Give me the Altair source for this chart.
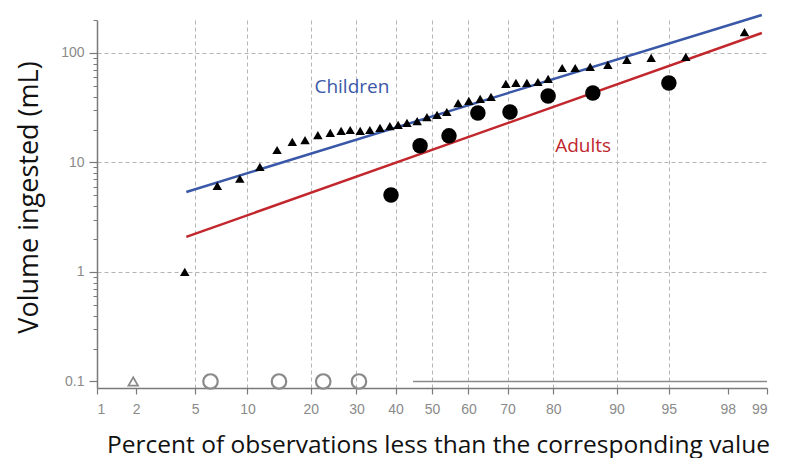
import altair as alt
import pandas as pd
from statistics import NormalDist

_nd = NormalDist()


def probit(p):
    return _nd.inv_cdf(p / 100.0)


# ---- data ----
children_pct = [4.3, 6.8, 9.1, 11.6, 14.1, 16.6, 18.9, 21.4, 24.0, 26.4, 28.5, 30.9, 33.3,
                35.9, 38.5, 40.7, 43.1, 45.9, 48.6, 51.4, 54.1, 57.2, 60.1, 63.1, 65.9,
                69.6, 72.0, 74.5, 76.9, 79.0, 81.7, 84.0, 86.4, 88.9, 91.2, 93.6, 96.1, 98.5]
children_vol = [1.0, 6.1, 7.1, 9.1, 13.0, 15.4, 16.0, 17.8, 18.6, 19.4, 19.8, 19.4, 19.8,
                20.7, 21.5, 22.0, 23.0, 23.9, 26.0, 27.2, 28.9, 34.9, 36.5, 38.0, 39.7,
                52.1, 53.2, 53.2, 54.3, 57.9, 72.9, 72.9, 74.5, 77.7, 86.3, 90.0, 91.9, 155]
adults_pct = [38.8, 46.7, 54.7, 62.5, 70.6, 79.0, 86.8, 95.0]
adults_vol = [5.05, 14.2, 17.5, 28.3, 28.9, 40.5, 43.1, 53.2]
children_zero_pct = [1.9]
adults_zero_pct = [6.2, 14.4, 22.5, 30.6]
zero_vol = 0.1
fit_pct = [4.4, 98.9]
children_fit_vol = [5.38, 222]
adults_fit_vol = [2.09, 152]
baseline_pct = [44.75, 99]
tick_pcts = [1, 2, 5, 10, 20, 30, 40, 50, 60, 70, 80, 90, 95, 98, 99]
grid_pcts = [5, 10, 20, 30, 40, 50, 60, 70, 80, 90, 95]
y_major = [0.1, 1, 10, 100]
y_grid = [1, 10, 100]
y_minor = [0.2, 0.3, 0.4, 0.5, 0.6, 0.7, 0.8, 0.9, 2, 3, 4, 5, 6, 7, 8, 9,
           20, 30, 40, 50, 60, 70, 80, 90, 200]
label_text = ["Children", "Adults"]
label_pct = [28.9, 85.3]
label_vol = [48.9, 14.2]
label_color = ["#3a58a8", "#c1272d"]

# ---- tables ----
children = pd.DataFrame({"z": [probit(p) for p in children_pct], "vol": children_vol})
adults = pd.DataFrame({"z": [probit(p) for p in adults_pct], "vol": adults_vol})
czero = pd.DataFrame({"z": [probit(p) for p in children_zero_pct], "vol": [zero_vol] * len(children_zero_pct)})
azero = pd.DataFrame({"z": [probit(p) for p in adults_zero_pct], "vol": [zero_vol] * len(adults_zero_pct)})
fits = pd.DataFrame({
    "z": [probit(p) for p in fit_pct] * 2,
    "vol": children_fit_vol + adults_fit_vol,
    "series": ["Children"] * 2 + ["Adults"] * 2,
})
base = pd.DataFrame({"z": [probit(baseline_pct[0])], "z2": [probit(baseline_pct[1])], "vol": [zero_vol]})
labels = pd.DataFrame({"z": [probit(p) for p in label_pct], "vol": label_vol,
                       "text": label_text, "color": label_color})

xscale = alt.Scale(domain=[probit(1), probit(99)], nice=False, zero=False)
yscale = alt.Scale(type="log", domain=[0.0872, 200], nice=False)

FONT = "Open Sans"
AXC = "#7a7a7a"
LBLC = "#8a8a8a"

x_main_axis = alt.Axis(values=[probit(p) for p in tick_pcts], orient="bottom",
                       labelExpr="format(cumulativeNormal(datum.value)*100, '.0f')",
                       grid=False, domainColor=AXC, domainWidth=1.5, tickColor=AXC,
                       tickSize=6, tickWidth=1.2, labelColor=LBLC, labelFont="Liberation Sans",
                       labelFontSize=14, labelPadding=8,
                       title="Percent of observations less than the corresponding value",
                       titleFont=FONT, titleFontSize=24.5, titleFontWeight="normal", titleColor="#111",
                       titleX=341, titleY=64, titleAnchor="middle", titleBaseline="alphabetic")
y_main_axis = alt.Axis(values=y_major, orient="left", grid=False, domainColor=AXC, domainWidth=1.5,
                       tickColor=AXC, tickSize=8, tickWidth=1.2, labelColor=LBLC,
                       labelFont="Liberation Sans", labelFontSize=14, labelPadding=5,
                       labelExpr="datum.value >= 1 ? format(datum.value, '.0f') : format(datum.value, '.1f')",
                       title="Volume ingested (mL)", titleFont=FONT, titleFontSize=27,
                       titleFontWeight="normal", titleColor="#111", titleAngle=270,
                       titleX=-60, titleY=177, titleAnchor="middle", titleAlign="center",
                       titleBaseline="alphabetic")
x_grid_axis = alt.Axis(values=[probit(p) for p in grid_pcts], orient="bottom", grid=True,
                       gridDash=[4, 3], gridColor="#b5b5b5", gridWidth=1, labels=False,
                       ticks=False, domain=False, title=None)
y_grid_axis = alt.Axis(values=y_grid, orient="left", grid=True, gridDash=[4, 3],
                       gridColor="#b5b5b5", gridWidth=1, labels=False, ticks=False,
                       domain=False, title=None)
y_minor_axis = alt.Axis(values=y_minor, orient="left", grid=False, labels=False, ticks=True,
                        tickSize=4, tickColor=AXC, tickWidth=1, domain=False, title=None)

grid_layer = alt.Chart(base).mark_rule(color="#8a8a8a", strokeWidth=1.5).encode(
    x=alt.X("z:Q", scale=xscale, axis=x_grid_axis),
    x2="z2:Q",
    y=alt.Y("vol:Q", scale=yscale, axis=y_grid_axis),
)

fit_layer = alt.Chart(fits).mark_line(strokeWidth=2.5).encode(
    x=alt.X("z:Q", scale=xscale, axis=None),
    y=alt.Y("vol:Q", scale=yscale, axis=None),
    color=alt.Color("series:N", scale=alt.Scale(domain=["Children", "Adults"],
                                                range=["#3a58a8", "#c1272d"]), legend=None),
    detail="series:N",
)

child_layer = alt.Chart(children).mark_point(shape="triangle-up", filled=True, color="black",
                                             size=90, opacity=1).encode(
    x=alt.X("z:Q", scale=xscale, axis=x_main_axis),
    y=alt.Y("vol:Q", scale=yscale, axis=y_main_axis),
)

adult_layer = alt.Chart(adults).mark_point(shape="circle", filled=True, color="black",
                                           size=240, opacity=1).encode(
    x=alt.X("z:Q", scale=xscale, axis=None),
    y=alt.Y("vol:Q", scale=yscale, axis=y_minor_axis),
)

czero_layer = alt.Chart(czero).mark_point(shape="triangle-up", filled=False, color="#8a8a8a",
                                          size=90, strokeWidth=1.8, opacity=1).encode(
    x=alt.X("z:Q", scale=xscale, axis=None),
    y=alt.Y("vol:Q", scale=yscale, axis=None),
)

azero_layer = alt.Chart(azero).mark_point(shape="circle", filled=False, color="#8a8a8a",
                                          size=210, strokeWidth=2.2, opacity=1).encode(
    x=alt.X("z:Q", scale=xscale, axis=None),
    y=alt.Y("vol:Q", scale=yscale, axis=None),
)

text_layer = alt.Chart(labels).mark_text(font=FONT, fontSize=19, align="center",
                                         baseline="middle").encode(
    x=alt.X("z:Q", scale=xscale, axis=None),
    y=alt.Y("vol:Q", scale=yscale, axis=None),
    text="text:N",
    color=alt.Color("color:N", scale=None),
)

chart = alt.layer(
    grid_layer, fit_layer, child_layer, adult_layer, czero_layer, azero_layer, text_layer
).resolve_axis(x="independent", y="independent").resolve_scale(
    x="shared", y="shared", color="independent"
).properties(
    width=670, height=368,
    autosize=alt.AutoSizeParams(type="none"),
    padding={"left": 89, "top": 12, "right": 18, "bottom": 70},
    background="white",
).configure_view(stroke=None)

chart.save("out.html", embed_options={"renderer": "svg", "actions": False})
